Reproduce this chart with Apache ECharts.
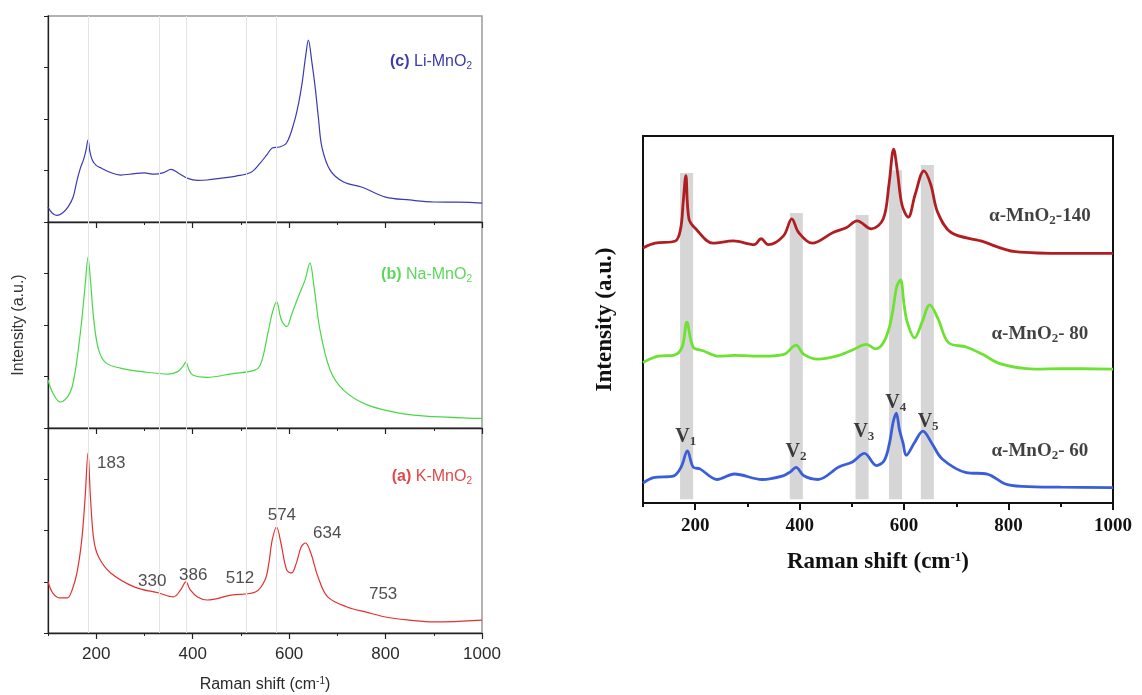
<!DOCTYPE html>
<html>
<head>
<meta charset="utf-8">
<script src="https://cdn.jsdelivr.net/npm/echarts@6/dist/echarts.min.js"></script>
<style>
  html, body { margin: 0; padding: 0; background: #ffffff; }
  #chart { width: 1142px; height: 695px; }
</style>
</head>
<body>
<div id="chart"></div>
<script>
// ---- Raman spectra, [shift (cm-1), relative intensity] ----
// Left figure: one spectrum per panel, intensity 0-100 within the panel
const liMnO2 = [[100,7.3],[108,4.5],[118,3.2],[130,4.4],[142,7.5],[152,12],[160,20],[167,26],[174,30.5],[179,35],[183,39.8],[187,34],[192,30],[200,27.5],[210,26.2],[230,24],[250,22.8],[280,23.5],[300,23.8],[320,23.2],[340,24],[355,25.5],[370,23.8],[390,21.2],[410,20.2],[430,20.4],[460,21.3],[490,22.3],[520,24],[540,28.6],[555,33],[565,35.9],[580,36.4],[595,38.5],[610,48.1],[620,58],[627,67.5],[634,80],[640,88.3],[647,78],[654,65.5],[661,50],[668,36.4],[685,25.2],[713,19.4],[750,17.0],[800,12.1],[850,10.7],[900,9.7],[950,9.6],[1000,9.2]];
const naMnO2 = [[100,23.3],[110,17],[125,12.6],[140,15],[150,19.9],[160,33],[170,52.4],[178,71.8],[183,83],[188,71.8],[195,52.4],[205,37.9],[220,31.6],[250,29.1],[300,27.2],[350,26.2],[370,27.5],[380,30],[386,32],[392,28.5],[400,25.7],[430,24.6],[480,26.3],[530,28.2],[542,31.6],[556,46],[565,55.8],[574,61.3],[584,52.4],[595,49.2],[605,55],[619,63.7],[633,71.8],[643,80],[652,68],[664,47.6],[685,28.2],[713,18.4],[762,11.2],[832,7.1],[901,5.5],[994,4.7],[1000,4.6]];
const kMnO2 = [[100,25.0],[110,19.5],[125,17.1],[140,17.1],[150,21],[160,29.3],[170,45.4],[177,66.3],[183,87.8],[188,66.3],[195,45.4],[205,37.1],[230,29.3],[280,22.4],[330,19.5],[360,17.6],[375,21],[386,24.9],[395,21],[410,17.6],[430,16.1],[480,18.5],[530,20],[550,25.9],[558,34.1],[565,45.4],[574,51.7],[583,43.9],[595,30.7],[605,29.3],[615,34.1],[625,42],[634,43.9],[645,39],[660,27.3],[680,17.6],[720,12.7],[760,10.2],[800,7.8],[850,6.3],[900,5.4],[1000,6.3]];
const kPeaks = [183, 330, 386, 512, 574, 634, 753];
const guideLines = [183, 330, 386, 512, 574];

// Right figure: stacked spectra on a common 0-100 scale
const mno2_140 = [[100,69.5],[123,70.8],[162,71.4],[172,74.7],[177,82],[182,89.2],[188,77.4],[201,74.7],[234,70.8],[273,71.4],[313,70.4],[326,72],[340,70.4],[369,72.8],[385,77.4],[398,73.7],[424,70.8],[464,73.7],[490,75.1],[510,76.9],[537,74.7],[560,77.4],[571,86.8],[580,96.4],[587,90.5],[596,81.2],[608,77.9],[621,84],[638,90.5],[651,86.8],[664,79.3],[690,73.7],[747,71.4],[813,68.5],[912,68],[1000,68]];
const mno2_80 = [[100,38.3],[130,40],[160,40.3],[175,42.5],[184,49.3],[196,42.5],[215,41.5],[245,40],[275,40.2],[330,40],[370,40.5],[393,43],[408,40.5],[435,39.2],[470,40],[501,41.7],[528,43.2],[545,42],[560,43.6],[572,48],[579,53],[586,59],[593,60.8],[600,54],[606,49.3],[620,45],[635,49.5],[649,54],[665,50.2],[685,43.7],[719,42.5],[750,40.5],[785,37.9],[850,36.5],[900,36.6],[1000,36.5]];
const mno2_60 = [[100,5.4],[120,6.9],[159,7.4],[173,9.8],[185,14.2],[196,9.8],[209,9.3],[242,6.4],[275,7.9],[328,6.4],[368,7.4],[382,8.5],[393,9.7],[408,7.4],[435,6.4],[475,9.8],[501,11.2],[524,13.5],[547,10.2],[562,11.6],[572,16.3],[579,22],[585,24.5],[591,20],[598,16.3],[604,13],[620,16.5],[636,19.6],[653,16.3],[673,12],[719,8.3],[759,7.9],[798,5],[850,4.4],[900,4.3],[1000,4.2]];
const bandRanges = [[171,196],[381,406],[507,532],[571,596],[632,657]];
const bandTops = [89.9, 79, 78.5, 90.7, 92.1];
const modeNames = ['1', '2', '3', '4', '5'];
const sampleNames = ['140', '80', '60'];
const xTicks = [200, 400, 600, 800, 1000];

// ---- layout ----
const L = { left: 48, width: 434 };
const leftGrids = [{ top: 16, height: 206 }, { top: 222, height: 206 }, { top: 428, height: 205 }];
const R = { left: 643, top: 136, width: 470, height: 367 };

const sans = 'Liberation Sans, Arial, sans-serif';
const serif = 'Liberation Serif, Times New Roman, serif';
const plain = v => String(v);

const grids = leftGrids.map(g => ({
  left: L.left, width: L.width, top: g.top, height: g.height,
  show: true, borderColor: '#9a9a9a', borderWidth: 1.5
}));
grids.push({ left: R.left, width: R.width, top: R.top, height: R.height, show: true, borderColor: '#111', borderWidth: 2 });

const xAxes = [];
const yAxes = [];
// left panels: an axis for the short ticks and one for the labelled ticks
leftGrids.forEach((g, i) => {
  const last = i === leftGrids.length - 1;
  xAxes.push({
    gridIndex: i, type: 'value', position: 'bottom', min: 100, max: 1000, interval: 100,
    axisLine: { lineStyle: { color: '#222', width: 1.3 } },
    axisTick: { length: 3, lineStyle: { color: '#222', width: 1 } },
    axisLabel: { show: false }, splitLine: { show: false }
  });
  xAxes.push({
    gridIndex: i, type: 'value', position: 'bottom', min: 100, max: 1000,
    axisLine: { show: false },
    axisTick: { length: 6, customValues: xTicks, lineStyle: { color: '#222', width: 1.2 } },
    axisLabel: { show: last, customValues: xTicks, formatter: plain, color: '#2a2a2a', fontFamily: sans, fontSize: 17, margin: 13 },
    splitLine: { show: false },
    name: last ? 'Raman shift (cm{sup|-1})' : '',
    nameLocation: 'middle', nameGap: 43,
    nameTextStyle: { color: '#2a2a2a', fontFamily: sans, fontSize: 16,
      rich: { sup: { fontSize: 10, verticalAlign: 'top', padding: [0, 0, 8, 0], fontFamily: sans, color: '#2a2a2a' } } }
  });
  yAxes.push({
    gridIndex: i, type: 'value', position: 'left', min: 0, max: 100, interval: 25,
    axisLine: { show: true, lineStyle: { color: '#222', width: 1.3 } },
    axisTick: { show: true, length: 4, lineStyle: { color: '#222' } },
    axisLabel: { show: false }, splitLine: { show: false },
    name: i === 1 ? 'Intensity (a.u.)' : '',
    nameLocation: 'middle', nameGap: 21,
    nameTextStyle: { color: '#333', fontFamily: sans, fontSize: 16 }
  });
});
// right panel
xAxes.push({
  gridIndex: 3, type: 'value', position: 'bottom', min: 100, max: 1000, interval: 100,
  axisLine: { lineStyle: { color: '#111', width: 2 } },
  axisTick: { length: 4, lineStyle: { color: '#111', width: 2 } },
  axisLabel: { show: false }, splitLine: { show: false }
});
xAxes.push({
  gridIndex: 3, type: 'value', position: 'bottom', min: 100, max: 1000,
  axisLine: { show: false },
  axisTick: { length: 7, customValues: xTicks, lineStyle: { color: '#111', width: 2 } },
  axisLabel: { customValues: xTicks, formatter: plain, color: '#111', fontFamily: serif, fontWeight: 'bold', fontSize: 19, margin: 14 },
  splitLine: { show: false },
  name: 'Raman shift (cm{sup|-1})', nameLocation: 'middle', nameGap: 48,
  nameTextStyle: { color: '#111', fontFamily: serif, fontWeight: 'bold', fontSize: 23,
    rich: { sup: { fontSize: 13, fontWeight: 'bold', fontFamily: serif, verticalAlign: 'top', padding: [0, 0, 10, 0], color: '#111' } } }
});
yAxes.push({
  gridIndex: 3, type: 'value', position: 'left', min: 0, max: 100,
  axisLine: { show: true, lineStyle: { color: '#111', width: 2 } },
  axisTick: { show: false }, axisLabel: { show: false }, splitLine: { show: false },
  name: 'Intensity (a.u.)', nameLocation: 'middle', nameGap: 26,
  nameTextStyle: { color: '#111', fontFamily: serif, fontWeight: 'bold', fontSize: 23 }
});

const guideMark = {
  silent: true, symbol: 'none', label: { show: false },
  lineStyle: { color: '#e4e4e4', width: 1, type: 'solid' },
  data: guideLines.map(x => ({ xAxis: x }))
};

function leftLine(data, idx, color) {
  return {
    type: 'line', xAxisIndex: idx * 2, yAxisIndex: idx, data: data,
    showSymbol: false, smooth: 0.35, z: 3,
    lineStyle: { color: color, width: 1.2 },
    markLine: guideMark
  };
}
function rightLine(data, color) {
  return {
    type: 'line', xAxisIndex: 6, yAxisIndex: 3, data: data,
    showSymbol: false, smooth: 0.35, z: 3,
    lineStyle: { color: color, width: 2.8 }
  };
}

// K-MnO2 peak labels, placed next to each band maximum
const peakLabelAt = { 183: [231, 83], 330: [316, 25], 386: [401, 28.3], 512: [498, 26.8], 574: [585, 57.6], 634: [679, 48.8], 753: [795, 19] };
const subRich = (size, font, weight, color) => ({
  s: { fontSize: size, fontFamily: font, fontWeight: weight, color: color, verticalAlign: 'bottom', padding: [size * 0.7, 0, 0, 0] }
});

// V-band labels and sample names on the right
const vLabelAt = [[182, 18], [393, 13.9], [523, 19.3], [584, 27.2], [646, 22]];
const sampleLabelAt = [[860, 78.2], [860, 46], [860, 14.2]];

const series = [
  leftLine(liMnO2, 0, '#3a3ab4'),
  leftLine(naMnO2, 1, '#48d848'),
  leftLine(kMnO2, 2, '#e2322f'),
  {
    type: 'scatter', xAxisIndex: 4, yAxisIndex: 2, symbolSize: 0, silent: true, z: 5,
    data: kPeaks.map(p => ({ value: peakLabelAt[p], name: String(p) })),
    label: { show: true, position: 'inside', formatter: p => p.name, color: '#222', fontFamily: sans, fontSize: 17 }
  },
  {
    // grey bands marking the V1..V5 modes
    type: 'line', xAxisIndex: 6, yAxisIndex: 3, data: [], z: 1, silent: true,
    markArea: {
      silent: true, itemStyle: { color: '#d6d6d6' },
      data: bandRanges.map((r, i) => [{ xAxis: r[0], yAxis: 1 }, { xAxis: r[1], yAxis: bandTops[i] }])
    }
  },
  rightLine(mno2_140, '#b01e22'),
  rightLine(mno2_80, '#6ee233'),
  rightLine(mno2_60, '#3a5ed8'),
  {
    type: 'scatter', xAxisIndex: 6, yAxisIndex: 3, symbolSize: 0, silent: true, z: 5,
    data: modeNames.map((m, i) => ({ value: vLabelAt[i], name: m })),
    label: { show: true, position: 'inside', formatter: p => 'V{s|' + p.name + '}',
      color: '#111', fontFamily: serif, fontWeight: 'bold', fontSize: 20,
      rich: subRich(13, serif, 'bold', '#111') }
  },
  {
    type: 'scatter', xAxisIndex: 6, yAxisIndex: 3, symbolSize: 0, silent: true, z: 5,
    data: sampleNames.map((n, i) => ({ value: sampleLabelAt[i], name: n })),
    label: { show: true, position: 'inside',
      formatter: p => '\u03b1-MnO{s|2}' + (p.name.length < 3 ? '- ' : '-') + p.name,
      color: '#111', fontFamily: serif, fontWeight: 'bold', fontSize: 19,
      rich: subRich(13, serif, 'bold', '#111') }
  }
];

// panel captions
function caption(tag, ion, color, top) {
  return {
    text: '{b|' + tag + '} ' + ion + '-MnO{s|2}',
    right: 1142 - 477, top: top,
    textStyle: {
      color: color, fontFamily: sans, fontSize: 16, fontWeight: 'normal',
      rich: {
        b: { color: color, fontFamily: sans, fontSize: 16, fontWeight: 'bold' },
        s: { color: color, fontFamily: sans, fontSize: 10, verticalAlign: 'bottom', padding: [9, 0, 0, 0] }
      }
    }
  };
}

const chart = echarts.init(document.getElementById('chart'), null, { renderer: 'canvas' });
chart.setOption({
  backgroundColor: '#ffffff',
  animation: false,
  title: [
    caption('(c)', 'Li', '#3c3caa', 47),
    caption('(b)', 'Na', '#5cd85c', 260),
    caption('(a)', 'K', '#e24848', 462)
  ],
  grid: grids,
  xAxis: xAxes,
  yAxis: yAxes,
  series: series
});
</script>
</body>
</html>
